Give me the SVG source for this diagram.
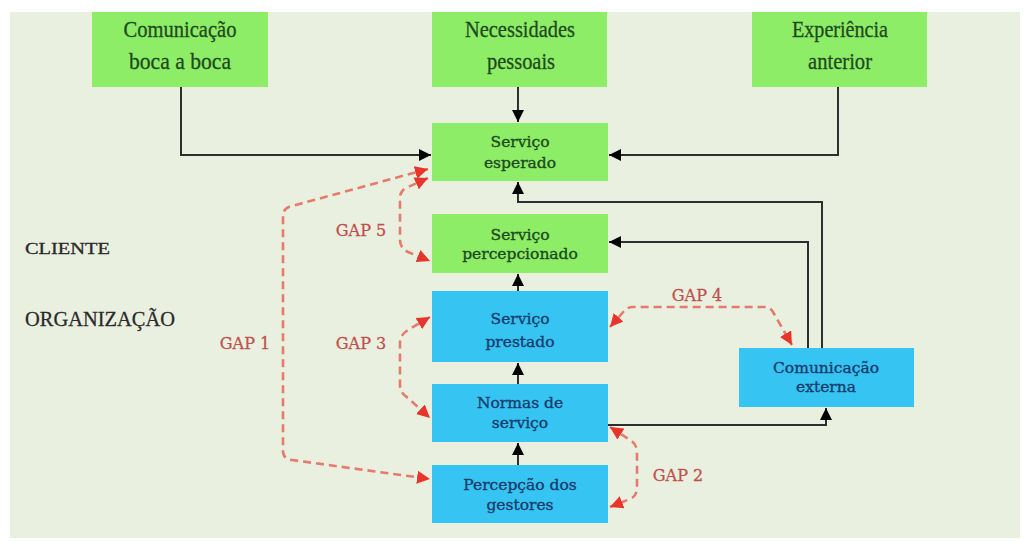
<svg xmlns="http://www.w3.org/2000/svg" width="1032" height="542" viewBox="0 0 1032 542">
<defs>
<style>
.g{fill:#8eed66}
.b{fill:#36c4f2}
.tt{font-family:"Liberation Serif",serif;font-size:23px;fill:#1f4a1f;stroke:#1f4a1f;stroke-width:0.3;text-anchor:middle}
.tg{font-family:"DejaVu Serif",serif;font-size:15.5px;fill:#1d4a20;stroke:#1d4a20;stroke-width:0.35;text-anchor:middle}
.tb{font-family:"DejaVu Serif",serif;font-size:15.5px;fill:#173c6e;stroke:#173c6e;stroke-width:0.35;text-anchor:middle}
.gap{font-family:"DejaVu Serif",serif;font-size:16px;fill:#c0504d;stroke:#c0504d;stroke-width:0.3;text-anchor:middle}
.side{font-family:"Liberation Serif",serif;fill:#2b2b2b;stroke:#2b2b2b;stroke-width:0.3}
.k{fill:none;stroke:#2e2e2e;stroke-width:2}
.r{fill:none;stroke:#e67a6c;stroke-width:2.6;stroke-dasharray:8 5}
</style>
<marker id="ak" viewBox="0 0 12 12" refX="12" refY="6" markerWidth="12" markerHeight="12" markerUnits="userSpaceOnUse" orient="auto"><path d="M0,0 L12,6 L0,12 z" fill="#000"/></marker>
<marker id="ar" viewBox="0 0 12 12" refX="12" refY="6" markerWidth="13" markerHeight="13" markerUnits="userSpaceOnUse" orient="auto-start-reverse"><path d="M0,0 L12,6 L0,12 z" fill="#e8352b"/></marker>
</defs>
<rect x="0" y="0" width="1032" height="542" fill="#ffffff"/>
<rect x="10" y="12" width="1010" height="526" fill="#e9f0df"/>

<g id="connectors">
<path class="k" d="M181,87 V155 H431" marker-end="url(#ak)"/>
<path class="k" d="M518,87 V122" marker-end="url(#ak)"/>
<path class="k" d="M838,87 V155 H609" marker-end="url(#ak)"/>
<path class="k" d="M822,348 V202 H518 V182" marker-end="url(#ak)"/>
<path class="k" d="M808,348 V242 H609" marker-end="url(#ak)"/>
<path class="k" d="M518,291 V274" marker-end="url(#ak)"/>
<path class="k" d="M518,384 V363" marker-end="url(#ak)"/>
<path class="k" d="M518,465 V443" marker-end="url(#ak)"/>
<path class="k" d="M608,425 H826 V408" marker-end="url(#ak)"/>
<path class="r" d="M428,169 L292,206 Q283,208 283,216 V451 Q283,459 292,460 L430,479" marker-start="url(#ar)" marker-end="url(#ar)"/>
<path class="r" d="M428,178 L406,188 Q400,191 400,198 V240 Q400,248 408,252 L430,261" marker-start="url(#ar)" marker-end="url(#ar)"/>
<path class="r" d="M430,317 L408,330 Q400,335 400,343 V385 Q400,393 408,398 L430,418" marker-start="url(#ar)" marker-end="url(#ar)"/>
<path class="r" d="M610,327 L625,310 Q628,307 633,307 H765 Q770,307 773,312 L792,345" marker-start="url(#ar)" marker-end="url(#ar)"/>
<path class="r" d="M610,427 L630,440 Q637,444 637,452 V488 Q637,496 630,499 L610,507" marker-start="url(#ar)" marker-end="url(#ar)"/>
</g>

<g id="gap-labels">
<text class="gap" x="245" y="349">GAP 1</text>
<text class="gap" x="678" y="481">GAP 2</text>
<text class="gap" x="361" y="349">GAP 3</text>
<text class="gap" x="697" y="301">GAP 4</text>
<text class="gap" x="361" y="236">GAP 5</text>
</g>

<g id="side-labels">
<text class="side" x="25" y="254" font-size="16" textLength="85" lengthAdjust="spacingAndGlyphs">CLIENTE</text>
<text class="side" x="25" y="326" font-size="22" textLength="150" lengthAdjust="spacingAndGlyphs">ORGANIZAÇÃO</text>
</g>

<g id="comunicacao-boca">
<rect class="g" x="92" y="12" width="176" height="75"/>
<text class="tt" x="180" y="37" textLength="113" lengthAdjust="spacingAndGlyphs">Comunicação</text>
<text class="tt" x="180" y="69" textLength="102" lengthAdjust="spacingAndGlyphs">boca a boca</text>
</g>
<g id="necessidades">
<rect class="g" x="432" y="12" width="175" height="75"/>
<text class="tt" x="520" y="37" textLength="110" lengthAdjust="spacingAndGlyphs">Necessidades</text>
<text class="tt" x="521" y="69" textLength="68" lengthAdjust="spacingAndGlyphs">pessoais</text>
</g>
<g id="experiencia">
<rect class="g" x="752" y="12" width="175" height="75"/>
<text class="tt" x="840" y="37" textLength="96" lengthAdjust="spacingAndGlyphs">Experiência</text>
<text class="tt" x="840" y="69" textLength="64" lengthAdjust="spacingAndGlyphs">anterior</text>
</g>
<g id="servico-esperado">
<rect class="g" x="432" y="123" width="176" height="58"/>
<text class="tg" x="520" y="147">Serviço</text>
<text class="tg" x="520" y="168">esperado</text>
</g>
<g id="servico-percepcionado">
<rect class="g" x="432" y="214" width="176" height="59"/>
<text class="tg" x="520" y="240">Serviço</text>
<text class="tg" x="520" y="259">percepcionado</text>
</g>
<g id="servico-prestado">
<rect class="b" x="432" y="291" width="176" height="71"/>
<text class="tb" x="520" y="324" font-size="18">Serviço</text>
<text class="tb" x="520" y="347" font-size="17">prestado</text>
</g>
<g id="normas">
<rect class="b" x="432" y="384" width="176" height="58"/>
<text class="tb" x="520" y="408">Normas de</text>
<text class="tb" x="520" y="428">serviço</text>
</g>
<g id="percepcao-gestores">
<rect class="b" x="432" y="465" width="176" height="58"/>
<text class="tb" x="520" y="490">Percepção dos</text>
<text class="tb" x="520" y="510">gestores</text>
</g>
<g id="comunicacao-externa">
<rect class="b" x="739" y="348" width="175" height="59"/>
<text class="tb" x="826" y="373">Comunicação</text>
<text class="tb" x="826" y="392">externa</text>
</g>
</svg>
